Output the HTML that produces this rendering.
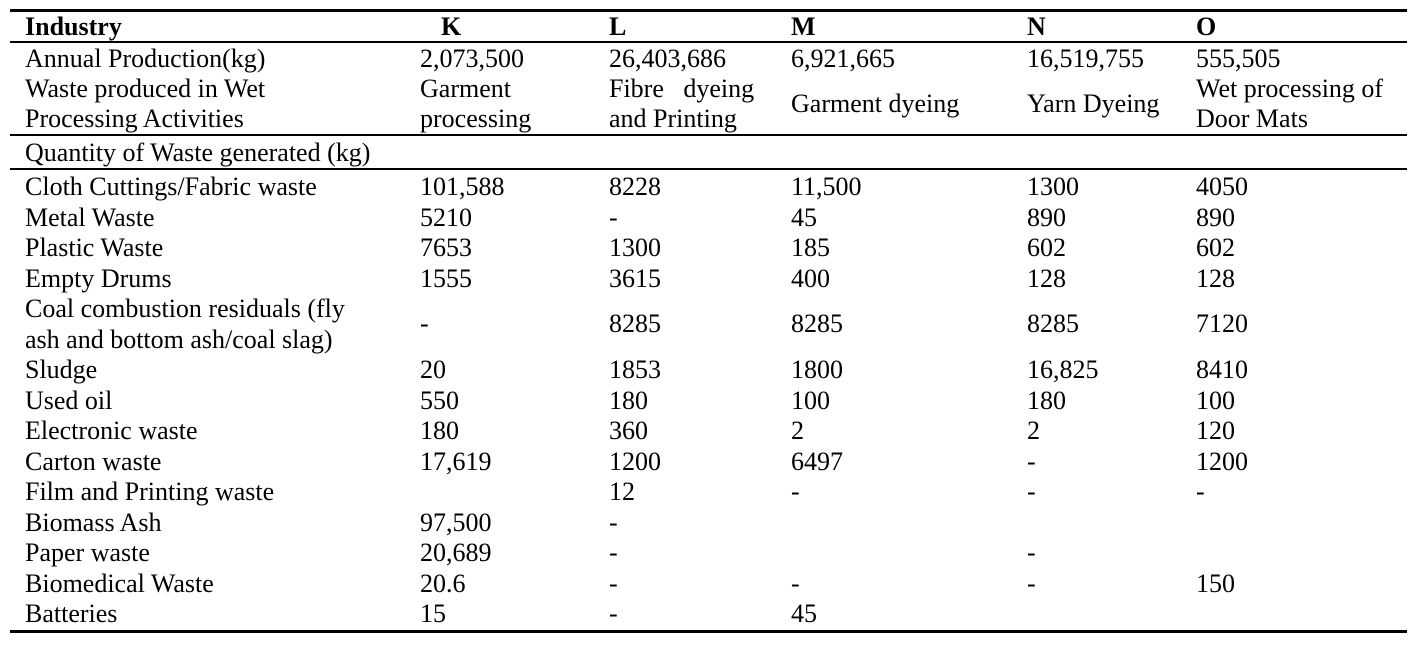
<!DOCTYPE html>
<html><head><meta charset="utf-8"><style>
body{margin:0;width:1421px;height:645px;background:#fff;position:relative;overflow:hidden;font-family:"Liberation Serif",serif;font-size:26px;color:#000}
.t{position:absolute;line-height:31px;height:31px;white-space:nowrap}
.b{font-weight:bold}
.r{position:absolute;left:10px;right:14px;background:#000}
</style></head><body>
<div class="r" style="top:9px;height:3px"></div>
<div class="r" style="top:41px;height:2px"></div>
<div class="r" style="top:134px;height:2px"></div>
<div class="r" style="top:168px;height:2px"></div>
<div class="r" style="top:630px;height:3px"></div>

<div class="t b" style="top:11px;left:25px">Industry</div>
<div class="t b" style="top:11px;left:441px">K</div>
<div class="t b" style="top:11px;left:609px">L</div>
<div class="t b" style="top:11px;left:791px">M</div>
<div class="t b" style="top:11px;left:1027px">N</div>
<div class="t b" style="top:11px;left:1196px">O</div>

<div class="t" style="top:43px;left:25px">Annual Production(kg)</div>
<div class="t" style="top:43px;left:420px">2,073,500</div>
<div class="t" style="top:43px;left:609px">26,403,686</div>
<div class="t" style="top:43px;left:791px">6,921,665</div>
<div class="t" style="top:43px;left:1027px">16,519,755</div>
<div class="t" style="top:43px;left:1196px">555,505</div>

<div class="t" style="top:73px;left:25px">Waste produced in Wet</div>
<div class="t" style="top:103px;left:25px">Processing Activities</div>
<div class="t" style="top:73px;left:420px">Garment</div>
<div class="t" style="top:103px;left:420px">processing</div>
<div class="t" style="top:73px;left:609px">Fibre&nbsp;&nbsp; dyeing</div>
<div class="t" style="top:103px;left:609px">and Printing</div>
<div class="t" style="top:88px;left:791px">Garment dyeing</div>
<div class="t" style="top:88px;left:1027px">Yarn Dyeing</div>
<div class="t" style="top:73px;left:1196px">Wet processing of</div>
<div class="t" style="top:103px;left:1196px">Door Mats</div>

<div class="t" style="top:137px;left:25px">Quantity of Waste generated (kg)</div>

<div class="t" style="top:171px;left:25px">Cloth Cuttings/Fabric waste</div>
<div class="t" style="top:171px;left:420px">101,588</div><div class="t" style="top:171px;left:609px">8228</div><div class="t" style="top:171px;left:791px">11,500</div><div class="t" style="top:171px;left:1027px">1300</div><div class="t" style="top:171px;left:1196px">4050</div>

<div class="t" style="top:201.5px;left:25px">Metal Waste</div>
<div class="t" style="top:201.5px;left:420px">5210</div><div class="t" style="top:201.5px;left:609px">-</div><div class="t" style="top:201.5px;left:791px">45</div><div class="t" style="top:201.5px;left:1027px">890</div><div class="t" style="top:201.5px;left:1196px">890</div>

<div class="t" style="top:232px;left:25px">Plastic Waste</div>
<div class="t" style="top:232px;left:420px">7653</div><div class="t" style="top:232px;left:609px">1300</div><div class="t" style="top:232px;left:791px">185</div><div class="t" style="top:232px;left:1027px">602</div><div class="t" style="top:232px;left:1196px">602</div>

<div class="t" style="top:262.5px;left:25px">Empty Drums</div>
<div class="t" style="top:262.5px;left:420px">1555</div><div class="t" style="top:262.5px;left:609px">3615</div><div class="t" style="top:262.5px;left:791px">400</div><div class="t" style="top:262.5px;left:1027px">128</div><div class="t" style="top:262.5px;left:1196px">128</div>

<div class="t" style="top:293px;left:25px">Coal combustion residuals (fly</div>
<div class="t" style="top:323.5px;left:25px">ash and bottom ash/coal slag)</div>
<div class="t" style="top:308px;left:420px">-</div><div class="t" style="top:308px;left:609px">8285</div><div class="t" style="top:308px;left:791px">8285</div><div class="t" style="top:308px;left:1027px">8285</div><div class="t" style="top:308px;left:1196px">7120</div>

<div class="t" style="top:354px;left:25px">Sludge</div>
<div class="t" style="top:354px;left:420px">20</div><div class="t" style="top:354px;left:609px">1853</div><div class="t" style="top:354px;left:791px">1800</div><div class="t" style="top:354px;left:1027px">16,825</div><div class="t" style="top:354px;left:1196px">8410</div>

<div class="t" style="top:384.5px;left:25px">Used oil</div>
<div class="t" style="top:384.5px;left:420px">550</div><div class="t" style="top:384.5px;left:609px">180</div><div class="t" style="top:384.5px;left:791px">100</div><div class="t" style="top:384.5px;left:1027px">180</div><div class="t" style="top:384.5px;left:1196px">100</div>

<div class="t" style="top:415px;left:25px">Electronic waste</div>
<div class="t" style="top:415px;left:420px">180</div><div class="t" style="top:415px;left:609px">360</div><div class="t" style="top:415px;left:791px">2</div><div class="t" style="top:415px;left:1027px">2</div><div class="t" style="top:415px;left:1196px">120</div>

<div class="t" style="top:445.5px;left:25px">Carton waste</div>
<div class="t" style="top:445.5px;left:420px">17,619</div><div class="t" style="top:445.5px;left:609px">1200</div><div class="t" style="top:445.5px;left:791px">6497</div><div class="t" style="top:445.5px;left:1027px">-</div><div class="t" style="top:445.5px;left:1196px">1200</div>

<div class="t" style="top:476px;left:25px">Film and Printing waste</div>
<div class="t" style="top:476px;left:609px">12</div><div class="t" style="top:476px;left:791px">-</div><div class="t" style="top:476px;left:1027px">-</div><div class="t" style="top:476px;left:1196px">-</div>

<div class="t" style="top:506.5px;left:25px">Biomass Ash</div>
<div class="t" style="top:506.5px;left:420px">97,500</div><div class="t" style="top:506.5px;left:609px">-</div>

<div class="t" style="top:537px;left:25px">Paper waste</div>
<div class="t" style="top:537px;left:420px">20,689</div><div class="t" style="top:537px;left:609px">-</div><div class="t" style="top:537px;left:1027px">-</div>

<div class="t" style="top:567.5px;left:25px">Biomedical Waste</div>
<div class="t" style="top:567.5px;left:420px">20.6</div><div class="t" style="top:567.5px;left:609px">-</div><div class="t" style="top:567.5px;left:791px">-</div><div class="t" style="top:567.5px;left:1027px">-</div><div class="t" style="top:567.5px;left:1196px">150</div>

<div class="t" style="top:598px;left:25px">Batteries</div>
<div class="t" style="top:598px;left:420px">15</div><div class="t" style="top:598px;left:609px">-</div><div class="t" style="top:598px;left:791px">45</div>
</body></html>
